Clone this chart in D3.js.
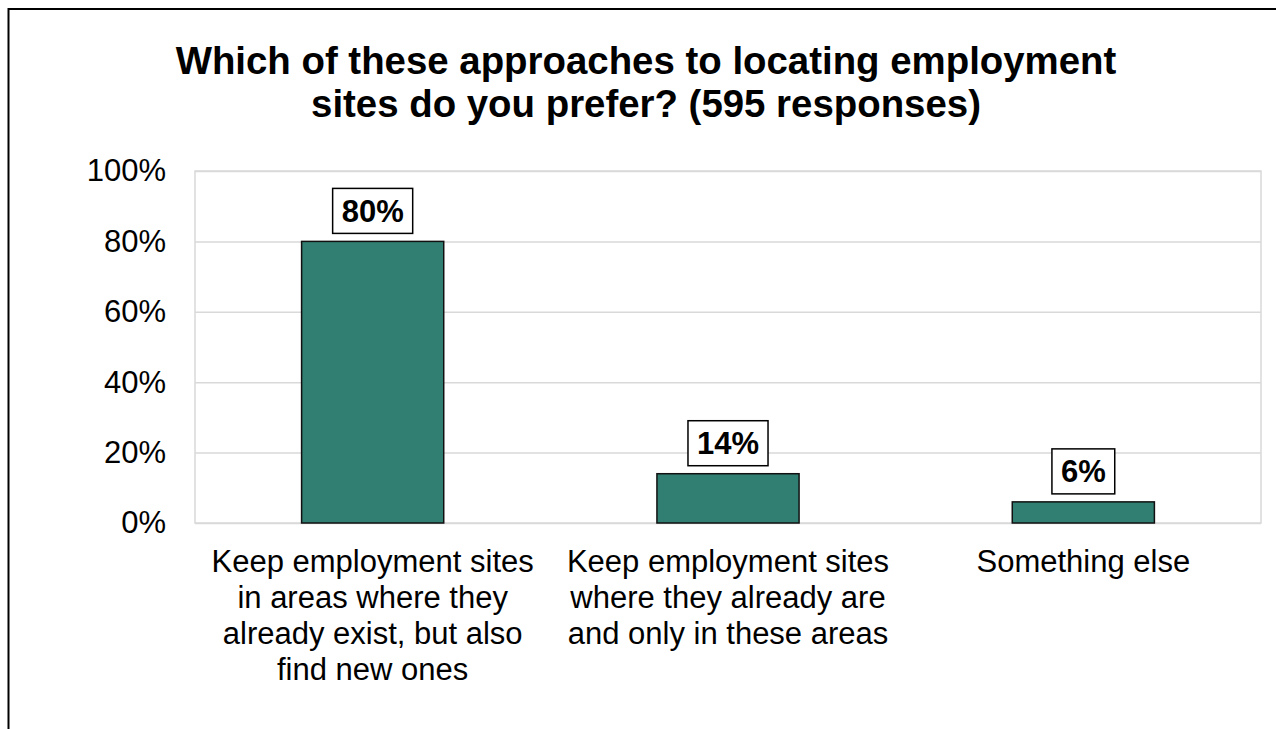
<!DOCTYPE html>
<html>
<head>
<meta charset="utf-8">
<script src="https://cdn.jsdelivr.net/npm/d3@7"></script>
<style>
  html, body { margin: 0; padding: 0; background: #ffffff; }
  svg { display: block; font-family: "Liberation Sans", Arial, sans-serif; }
</style>
</head>
<body>
<svg id="chart" width="1276" height="729"></svg>
<script>
// Survey question and answers
const titleLines = [
  "Which of these approaches to locating employment",
  "sites do you prefer? (595 responses)"
];
const categories = [
  "Keep employment sites\nin areas where they\nalready exist, but also\nfind new ones",
  "Keep employment sites\nwhere they already are\nand only in these areas",
  "Something else"
];
const shares = [80, 14, 6];
const yTicks = [0, 20, 40, 60, 80, 100];

const svg = d3.select("#chart");
const W = 1276, H = 729;

// Outer frame (runs off the right and bottom edges)
svg.append("path")
  .attr("d", `M8.5,${H} V9 H${W}`)
  .attr("fill", "none")
  .attr("stroke", "#000")
  .attr("stroke-width", 2);

// Title
const title = svg.append("text")
  .attr("text-anchor", "middle")
  .attr("font-size", 38.4)
  .attr("font-weight", "bold")
  .attr("fill", "#000");
titleLines.forEach((t, i) => {
  title.append("tspan").attr("x", 646).attr("y", 74 + i * 43).text(t);
});

// Plot area
const plot = { left: 195, right: 1261, top: 171, bottom: 523 };

const x = d3.scaleBand()
  .domain(categories)
  .range([plot.left, plot.right])
  .paddingInner(0.6)
  .paddingOuter(0.3);

const y = d3.scaleLinear()
  .domain([0, 100])
  .range([plot.bottom, plot.top]);

// Horizontal gridlines and tick labels
const yAxis = d3.axisLeft(y)
  .tickValues(yTicks)
  .tickFormat(d => d + "%")
  .tickSize(-(plot.right - plot.left))
  .tickPadding(29);

const gy = svg.append("g")
  .attr("transform", `translate(${plot.left},0)`)
  .call(yAxis);
gy.select(".domain").remove();
gy.selectAll(".tick line")
  .attr("stroke", "#d9d9d9")
  .attr("stroke-width", 1.5);
gy.selectAll(".tick text")
  .attr("font-size", 31)
  .attr("fill", "#000")
  .attr("font-family", "'Liberation Sans', Arial, sans-serif");

// Plot area border
svg.append("rect")
  .attr("x", plot.left)
  .attr("y", plot.top)
  .attr("width", plot.right - plot.left)
  .attr("height", plot.bottom - plot.top)
  .attr("fill", "none")
  .attr("stroke", "#d9d9d9")
  .attr("stroke-width", 1.5);

// Bars
svg.append("g").selectAll("rect")
  .data(categories)
  .join("rect")
  .attr("x", d => x(d))
  .attr("y", (d, i) => y(shares[i]))
  .attr("width", x.bandwidth())
  .attr("height", (d, i) => y(0) - y(shares[i]))
  .attr("fill", "#317f73")
  .attr("stroke", "#111")
  .attr("stroke-width", 1.5);

// Value labels in boxes above each bar
const labels = svg.append("g").selectAll("g")
  .data(categories)
  .join("g")
  .attr("transform", (d, i) => `translate(${x(d) + x.bandwidth() / 2},${y(shares[i]) - 8})`);

labels.append("text")
  .attr("class", "val")
  .attr("text-anchor", "middle")
  .attr("font-size", 31)
  .attr("font-weight", "bold")
  .attr("fill", "#000")
  .attr("y", -11.5)
  .text((d, i) => shares[i] + "%");

labels.each(function () {
  const g = d3.select(this);
  const bb = g.select("text").node().getBBox();
  const padX = 9;
  g.insert("rect", "text")
    .attr("x", bb.x - padX)
    .attr("y", -45)
    .attr("width", bb.width + padX * 2)
    .attr("height", 45)
    .attr("fill", "#fff")
    .attr("stroke", "#000")
    .attr("stroke-width", 1.5);
});

// Category labels
const cat = svg.append("g").selectAll("text")
  .data(categories)
  .join("text")
  .attr("text-anchor", "middle")
  .attr("font-size", 31)
  .attr("fill", "#000");
cat.each(function (d) {
  const t = d3.select(this);
  d.split("\n").forEach((line, i) => {
    t.append("tspan")
      .attr("x", x(d) + x.bandwidth() / 2)
      .attr("y", 572 + i * 36)
      .text(line);
  });
});
</script>
</body>
</html>
